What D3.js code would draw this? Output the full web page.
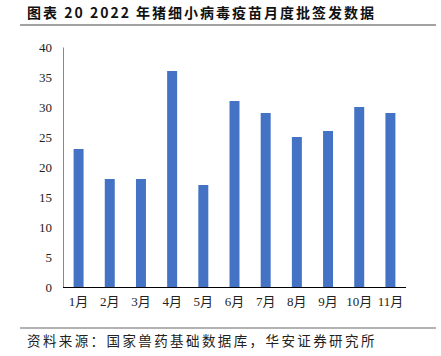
<!DOCTYPE html>
<html><head><meta charset="utf-8">
<script src="https://cdn.jsdelivr.net/npm/d3@7"></script>
<style>body{margin:0;background:#fff;}svg{display:block;}</style>
</head><body>
<svg id="c" width="441" height="356"></svg>
<script>
const categories = ["1月","2月","3月","4月","5月","6月","7月","8月","9月","10月","11月"];
const values = [23, 18, 18, 36, 17, 31, 29, 25, 26, 30, 29];
const yTicks = [0,5,10,15,20,25,30,35,40];
const title = "图表 20 2022 年猪细小病毒疫苗月度批签发数据";
const source = "资料来源：国家兽药基础数据库，华安证券研究所";

const svg = d3.select("#c");
const m = {left:63, right:406, top:47, bottom:287};
const x = d3.scaleBand().domain(categories).range([m.left, m.right]).paddingInner(0.68).paddingOuter(0.34);
const y = d3.scaleLinear().domain([0,40]).range([m.bottom, m.top]);

svg.append("text").attr("x",27).attr("y",18).attr("font-family","'Noto Sans CJK SC', sans-serif")
  .attr("font-weight","bold").attr("font-size",14).attr("letter-spacing",2).attr("fill","#111").text(title);
svg.append("line").attr("x1",20).attr("x2",436).attr("y1",25).attr("y2",25).attr("stroke","#444").attr("stroke-width",1);

svg.selectAll("rect.bar").data(values).enter().append("rect").attr("class","bar")
  .attr("x",(d,i)=>x(categories[i])).attr("width",x.bandwidth())
  .attr("y",d=>y(d)).attr("height",d=>y(0)-y(d)).attr("fill","#4472C4");

const ya = svg.append("g").attr("transform",`translate(${m.left},0)`)
  .call(d3.axisLeft(y).tickValues(yTicks).tickSize(0).tickPadding(11));
ya.select(".domain").attr("stroke","#888");
ya.selectAll("text").attr("font-family","'Liberation Serif', serif").attr("font-size",13).attr("fill","#222");

const xa = svg.append("g").attr("transform",`translate(0,${m.bottom})`)
  .call(d3.axisBottom(x).tickSize(0).tickPadding(10));
xa.select(".domain").attr("stroke","#000").attr("d",`M${m.left},0.5H${m.right}`);
xa.selectAll("text").attr("font-family","'Liberation Serif', 'Noto Sans CJK SC', serif").attr("font-size",13).attr("fill","#222");

svg.append("line").attr("x1",20).attr("x2",436).attr("y1",328).attr("y2",328).attr("stroke","#999").attr("stroke-width",1.5);
svg.append("text").attr("x",27).attr("y",346).attr("font-family","'Noto Sans CJK SC', sans-serif")
  .attr("font-size",13.5).attr("letter-spacing",2.4).attr("fill","#222").text(source);
</script>
</body></html>
